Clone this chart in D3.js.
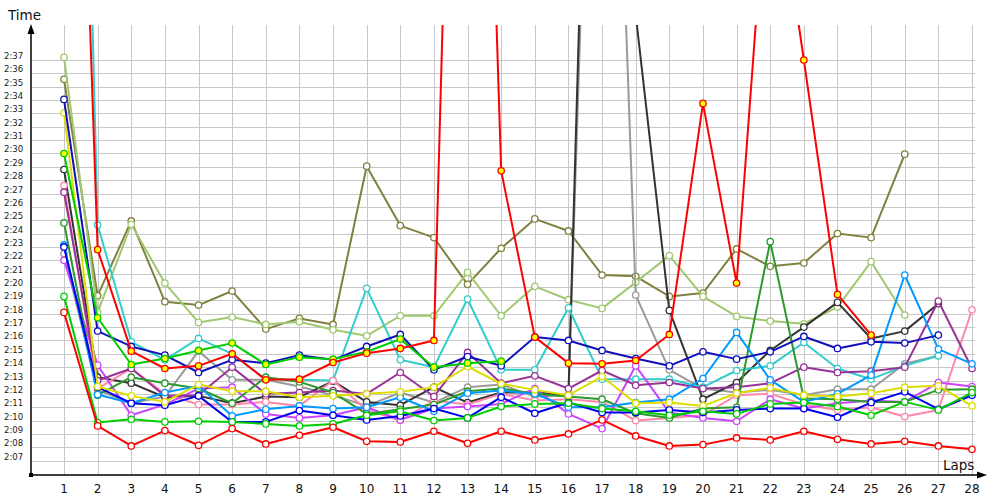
<!DOCTYPE html>
<html><head><meta charset="utf-8">
<script src="https://cdn.jsdelivr.net/npm/d3@7"></script>
<style>body{margin:0;background:#fff}svg{display:block}</style>
</head><body>
<svg id="c" width="1000" height="500"></svg>
<script>
// lap numbers
const laps = d3.range(1, 29);
// y tick labels (seconds values 2:07 .. 2:37)
const yTicks = d3.range(127, 158);
// series lap times in seconds (null = no lap)
const olive      = [155.55,139.35,144.95,138.9,138.65,139.7,136.85,137.65,137.2,149.05,144.6,143.7,140.2,142.9,145.1,144.2,140.9,140.8,139.3,139.55,142.85,141.55,141.8,144.0,143.7,149.95,null,null];
const lightOlive = [157.2,138.1,144.7,140.3,137.35,137.75,137.2,137.4,136.8,136.35,137.85,137.85,141.1,137.85,140.05,139.05,138.4,140.35,142.35,139.3,137.8,137.45,137.25,138.5,141.9,137.9,null,null];
const cyan       = [243,144.65,135.9,134.55,136.15,135.0,133.1,133.05,133.0,139.9,134.55,134.0,139.1,133.8,133.8,138.45,133.1,133.1,133.1,132.5,133.75,134.1,135.85,133.9,133.1,134.1,134.85,null];
const blueDark   = [154.05,136.7,135.55,134.9,133.6,134.55,134.3,134.9,134.55,135.55,136.45,133.8,134.8,134.1,136.25,136.0,135.25,134.65,134.1,135.15,134.6,135.15,136.3,135.4,135.9,135.8,136.4,null];
const yellow     = [153.05,132.55,131.85,131.4,132.7,132.2,132.2,131.75,131.85,132.0,132.15,132.5,134.05,132.75,132.3,131.9,133.3,131.3,131.35,131.1,132.05,132.45,131.9,131.8,132.05,132.5,132.6,131.1];
const darkGray   = [148.8,133.25,132.8,131.75,131.85,131.3,131.8,131.75,132.95,131.4,131.15,132.5,131.35,132.1,132.1,131.9,220,160.4,138.25,131.6,132.85,135.25,137.0,138.85,136.15,136.7,138.75,null];
const gray       = [142.5,132.3,131.3,131.8,135.2,133.05,133.05,132.55,131.9,131.1,132.1,131.35,132.5,132.7,131.8,131.9,210,139.4,133.8,132.4,132.1,132.3,131.9,132.35,132.35,134.25,134.85,null];
const lightBlue  = [143.15,131.95,131.3,132.1,132.6,130.35,130.85,131.1,130.9,131.0,131.75,130.7,132.05,132.25,132.0,131.0,131.0,131.35,131.6,133.15,136.6,133.05,131.4,132.0,133.4,140.9,135.35,134.25];
const bluePure   = [143.0,132.5,131.3,131.15,131.85,129.9,129.9,130.75,130.4,130.05,130.35,130.9,130.2,131.75,130.55,131.35,130.6,130.6,130.8,130.6,130.8,130.9,130.9,130.25,131.35,132.15,130.85,131.9];
const violet     = [142.0,134.15,130.4,131.2,132.4,132.5,130.5,130.2,130.4,131.0,130.05,130.9,131.05,131.25,132.4,130.5,129.4,134.1,130.6,130.2,129.95,131.6,130.9,131.3,131.5,131.4,132.85,132.55];
const purple     = [147.1,133.0,133.9,131.85,131.9,134.0,132.0,132.1,132.25,132.0,133.6,131.8,135.1,132.8,133.35,132.4,133.75,132.65,132.85,132.4,132.5,132.8,134.0,133.6,133.7,134.0,138.95,133.9];
const pink       = [147.6,132.4,133.9,132.0,131.2,131.2,131.4,131.1,133.0,130.8,130.0,131.5,131.2,132.0,131.5,131.6,131.4,130.0,130.2,130.4,131.9,132.0,131.2,130.8,131.0,130.3,130.8,138.3];
const forest     = [144.8,131.9,133.25,132.8,132.4,131.3,133.25,132.9,132.1,130.5,130.85,131.2,132.2,132.4,132.0,131.8,131.6,130.55,130.2,130.9,131.0,143.4,131.65,131.6,131.4,131.4,132.3,132.35];
const greenLow   = [139.3,129.85,130.1,129.9,129.95,129.9,129.75,129.6,129.75,130.4,130.7,130.0,130.2,131.05,131.25,131.3,130.9,130.7,130.4,130.7,130.5,131.25,131.35,131.05,130.4,131.4,130.8,132.1];
const greenYellow= [150.0,137.7,134.2,134.65,135.25,135.8,134.2,134.75,134.6,135.15,136.1,134.0,134.3,134.45,null,null,null,null,null,null,null,null,null,null,null,null,null,null];
const redLow     = [138.1,129.6,128.1,129.25,128.15,129.4,128.25,128.9,129.5,128.45,128.4,129.2,128.3,129.2,128.55,129.0,130.05,128.85,128.1,128.2,128.7,128.55,129.2,128.6,128.25,128.45,128.1,127.85];
const redYellow  = [217,142.8,135.2,133.9,134.1,135.0,133.05,133.1,134.35,135.05,135.4,136.0,228,148.7,136.25,134.3,134.25,134.5,136.45,153.75,140.3,174.3,157.0,139.45,136.4,null,null,null];

const series = [
  {v: olive, c: "#808040", f: "#fff"},
  {v: lightOlive, c: "#a0c870", f: "#fff"},
  {v: gray, c: "#9a9a9a", f: "#fff"},
  {v: darkGray, c: "#333333", f: "#fff"},
  {v: cyan, c: "#33cccc", f: "#fff"},
  {v: pink, c: "#ff88aa", f: "#fff"},
  {v: violet, c: "#cc44ff", f: "#fff"},
  {v: purple, c: "#993399", f: "#fff"},
  {v: forest, c: "#2a9a2a", f: "#fff"},
  {v: lightBlue, c: "#0099ff", f: "#fff"},
  {v: bluePure, c: "#0000ee", f: "#fff"},
  {v: yellow, c: "#dddd00", f: "#fff"},
  {v: greenLow, c: "#00cc00", f: "#fff"},
  {v: blueDark, c: "#1010bb", f: "#fff"},
  {v: greenYellow, c: "#00cc00", f: "#ffff00"},
  {v: redLow, c: "#ff0000", f: "#fff"},
  {v: redYellow, c: "#ff0000", f: "#ffff00"}
];

const svg = d3.select("#c");
const x = d3.scaleLinear().domain([1, 28]).range([64, 972]);
const y = d3.scaleLinear().domain([126, 157]).range([474, 60]);
const pLeft = 31, pBottom = 475, pTop = 25, pRight = 975;
const fmt = s => Math.floor(s / 60) + ":" + String(s % 60).padStart(2, "0");

// grid
const g = svg.append("g").attr("shape-rendering", "crispEdges");
g.selectAll("line.h").data(yTicks).join("line")
  .attr("x1", pLeft).attr("x2", pRight)
  .attr("y1", d => Math.round(y(d)) + 0.5).attr("y2", d => Math.round(y(d)) + 0.5)
  .attr("stroke", "#c8c8c8");
g.selectAll("line.v").data(laps).join("line")
  .attr("x1", d => Math.round(x(d)) + 0.5).attr("x2", d => Math.round(x(d)) + 0.5)
  .attr("y1", pTop).attr("y2", pBottom)
  .attr("stroke", "#c8c8c8");

// y labels
svg.selectAll("text.yl").data(yTicks).join("text")
  .attr("x", 4).attr("y", d => y(d) - 1)
  .attr("font-family", "DejaVu Sans, sans-serif").attr("font-size", 8.5)
  .attr("fill", "#1a1a1a")
  .text(d => fmt(d));
// x labels
svg.selectAll("text.xl").data(laps).join("text")
  .attr("x", d => x(d)).attr("y", 493).attr("text-anchor", "middle")
  .attr("font-family", "DejaVu Sans, sans-serif").attr("font-size", 12)
  .attr("fill", "#111")
  .text(d => d);

// clip
svg.append("clipPath").attr("id", "clip").append("rect")
  .attr("x", pLeft).attr("y", pTop).attr("width", 1000 - pLeft).attr("height", pBottom - pTop);

const plot = svg.append("g").attr("clip-path", "url(#clip)");
const line = d3.line().defined(d => d != null).x((d, i) => x(i + 1)).y(d => y(d));
series.forEach(s => {
  const sg = plot.append("g");
  sg.append("path").attr("d", line(s.v)).attr("fill", "none")
    .attr("stroke", s.c).attr("stroke-width", 2).attr("stroke-linejoin", "round");
  sg.selectAll("circle").data(s.v.map((v, i) => ({v, i})).filter(d => d.v != null)).join("circle")
    .attr("cx", d => x(d.i + 1)).attr("cy", d => y(d.v)).attr("r", 3.2)
    .attr("fill", s.f).attr("stroke", s.c).attr("stroke-width", 1.3);
});

// axes
svg.append("line").attr("x1", pLeft).attr("x2", pLeft).attr("y1", 32).attr("y2", pBottom)
  .attr("stroke", "#000").attr("stroke-width", 1.5);
svg.append("line").attr("x1", pLeft).attr("x2", 980).attr("y1", pBottom).attr("y2", pBottom)
  .attr("stroke", "#000").attr("stroke-width", 1.5);
svg.append("path").attr("d", `M${pLeft},24 L${pLeft - 3.5},34 L${pLeft + 3.5},34 Z`).attr("fill", "#000");
svg.append("path").attr("d", `M987,${pBottom} L977,${pBottom - 3.5} L977,${pBottom + 3.5} Z`).attr("fill", "#000");
svg.append("rect").attr("x", pLeft - 2).attr("y", pBottom - 2).attr("width", 4).attr("height", 4).attr("fill", "#000");

svg.append("text").attr("x", 8).attr("y", 20).attr("font-family", "DejaVu Sans, sans-serif")
  .attr("font-size", 13.5).attr("fill", "#111").text("Time");
svg.append("text").attr("x", 943).attr("y", 470).attr("font-family", "DejaVu Sans, sans-serif")
  .attr("font-size", 13.5).attr("fill", "#111").text("Laps");
</script>
</body></html>
